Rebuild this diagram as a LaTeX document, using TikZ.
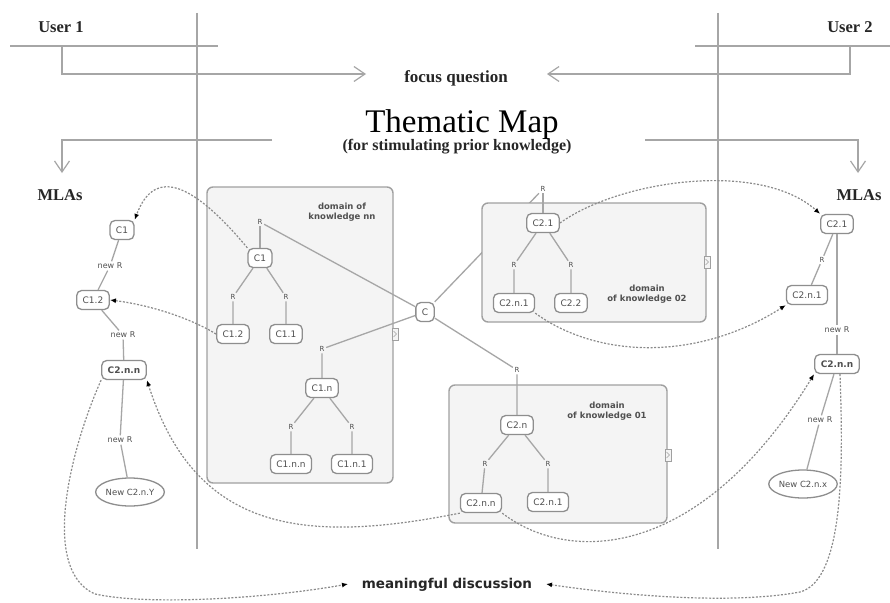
\documentclass[tikz,border=0pt]{standalone}
\usepackage{fontspec}
\setmainfont{Liberation Serif}
\newfontfamily\dvs{DejaVu Sans}
\usetikzlibrary{arrows.meta,shapes.geometric}
\pgfdeclarelayer{bg}
\pgfsetlayers{bg,main}
\definecolor{linegray}{HTML}{A6A6A6}
\definecolor{bordergray}{HTML}{8E8E8E}
\definecolor{textgray}{HTML}{505050}
\definecolor{boxfill}{HTML}{F4F4F4}
\definecolor{boxdraw}{HTML}{A0A0A0}
\definecolor{dashgray}{HTML}{8A8A8A}
\begin{document}
\begin{tikzpicture}[x=1pt,y=-1pt,
 lin/.style={draw=linegray, line width=1.3pt},
 brk/.style={draw=linegray, line width=1.3pt},
 barb/.style={-{Straight Barb[length=11pt,width=15pt,line width=1.2pt]}},
 dsh/.style={draw=dashgray, line width=1.2pt, dash pattern=on 2pt off 1.6pt, -{Latex[length=6pt,width=5pt,black]}},
 cnode/.style={draw=bordergray, line width=1.3pt, fill=white, rounded corners=5pt, font=\dvs\fontsize{9}{10}\selectfont, text=textgray, inner xsep=6pt, inner ysep=2pt, minimum height=19pt},
 bnode/.style={cnode, font=\dvs\bfseries\fontsize{9}{10}\selectfont},
 enode/.style={ellipse, draw=bordergray, line width=1.3pt, fill=white, font=\dvs\fontsize{8.5}{10}\selectfont, text=textgray, minimum width=66pt, minimum height=28pt, inner sep=0pt},
 rlab/.style={font=\dvs\fontsize{7}{8}\selectfont, text=textgray, inner sep=1.5pt},
 nrlab/.style={font=\dvs\fontsize{8}{9}\selectfont, text=textgray, inner sep=1.5pt},
 dom/.style={draw=boxdraw, line width=1.4pt, fill=boxfill, rounded corners=6pt},
 domtxt/.style={font=\dvs\bfseries\fontsize{8.5}{10.5}\selectfont, text=textgray, align=center},
 serlab/.style={font=\bfseries\fontsize{16.5}{18}\selectfont, text=black!85, inner sep=0pt, anchor=base},
 icon/.style={draw=boxdraw, line width=0.9pt, fill=boxfill},
]
\useasboundingbox (0,0) rectangle (890,602);
\begin{pgfonlayer}{bg}
\fill[white] (0,0) rectangle (890,602);
\end{pgfonlayer}

% ---------- frame lines ----------
\draw[lin] (197,13) -- (197,549);
\draw[lin] (718,13) -- (718,549);
\draw[lin] (10,46) -- (218,46);
\draw[lin] (695,46) -- (890,46);

% ---------- headings ----------
\node[serlab] (user1) at (61,33) {User 1};
\node[serlab] (user2) at (850,33) {User 2};
\node[font=\bfseries\fontsize{17}{19}\selectfont, text=black!85, inner sep=0pt, anchor=base] (fq) at (456,82) {focus question};
\node[font=\fontsize{33}{36}\selectfont, inner sep=0pt, anchor=base] (title) at (462,132) {Thematic Map};
\node[font=\bfseries\fontsize{16}{18}\selectfont, text=black!85, inner sep=0pt] (sub) at (457,147) {(for stimulating prior knowledge)};
\node[serlab] (mlaL) at (60,200) {MLAs};
\node[serlab] (mlaR) at (859,200) {MLAs};

\coordinate (u1a) at (62,46);
\coordinate (u1b) at (62,74);
\coordinate (fqL) at (366,74);
\coordinate (u2a) at (850,46);
\coordinate (u2b) at (850,74);
\coordinate (fqR) at (547,74);
\draw[brk,barb] (u1a) -- (u1b) -- (fqL);
\draw[brk,barb] (u2a) -- (u2b) -- (fqR);

\coordinate (tL1) at (272,140);
\coordinate (tL2) at (62,140);
\coordinate (tL3) at (62,173);
\coordinate (tR1) at (645,140);
\coordinate (tR2) at (858,140);
\coordinate (tR3) at (858,173);
\draw[brk,barb] (tL1) -- (tL2) -- (tL3);
\draw[brk,barb] (tR1) -- (tR2) -- (tR3);

% ---------- domain boxes ----------
\draw[dom] (207,187) rectangle (393,483);
\draw[dom] (482,203) rectangle (706,322);
\draw[dom] (449,385) rectangle (667,523);
\draw[icon] (392,328) rectangle (398,340);
\draw[draw=boxdraw, line width=0.6pt] (393.5,331) -- (396.5,334) -- (393.5,337);
\draw[icon] (704,256) rectangle (710,268);
\draw[draw=boxdraw, line width=0.6pt] (705.5,259) -- (708.5,262) -- (705.5,265);
\draw[icon] (665,449) rectangle (671,461);
\draw[draw=boxdraw, line width=0.6pt] (666.5,452) -- (669.5,455) -- (666.5,458);

\node[domtxt] (tnn) at (342,212) {domain of\\knowledge nn};
\node[domtxt] (t02) at (647,294) {domain\\of knowledge 02};
\node[domtxt] (t01) at (607,411) {domain\\of knowledge 01};

% ---------- central concept ----------
\node[cnode] (C) at (425,312) {C};

% domain nn
\node[rlab] (rTop) at (260,222) {R};
\node[cnode] (dC1) at (260,258) {C1};
\node[rlab] (rA) at (233,297) {R};
\node[rlab] (rB) at (286,297) {R};
\node[cnode] (dC12) at (233,334) {C1.2};
\node[cnode] (dC11) at (286,334) {C1.1};
\node[rlab] (rN) at (322,349) {R};
\node[cnode] (dC1n) at (322,388) {C1.n};
\node[rlab] (rNa) at (291,427) {R};
\node[rlab] (rNb) at (352,427) {R};
\node[cnode] (dC1nn) at (291,464) {C1.n.n};
\node[cnode] (dC1n1) at (352,464) {C1.n.1};

\draw[lin] (rTop) -- (dC1);
\draw[lin] (rTop) -- (C);
\draw[lin] (dC1) -- (rA) -- (dC12);
\draw[lin] (dC1) -- (rB) -- (dC11);
\draw[lin] (C) -- (rN) -- (dC1n);
\draw[lin] (dC1n) -- (rNa) -- (dC1nn);
\draw[lin] (dC1n) -- (rNb) -- (dC1n1);

% domain 02
\node[rlab] (r02) at (543,189) {R};
\node[cnode] (dC21) at (543,223) {C2.1};
\node[rlab] (r02a) at (514,265) {R};
\node[rlab] (r02b) at (571,265) {R};
\node[cnode] (dC2n1) at (514,303) {C2.n.1};
\node[cnode] (dC22) at (571,303) {C2.2};
\begin{pgfonlayer}{bg}
\draw[lin] (C) -- (r02);
\end{pgfonlayer}
\draw[lin] (r02) -- (dC21);
\draw[lin] (dC21) -- (r02a) -- (dC2n1);
\draw[lin] (dC21) -- (r02b) -- (dC22);

% domain 01
\node[rlab] (r01) at (517,370) {R};
\node[cnode] (dC2n) at (517,425) {C2.n};
\node[rlab] (r01a) at (485,464) {R};
\node[rlab] (r01b) at (548,464) {R};
\node[cnode] (dC2nn) at (481,503) {C2.n.n};
\node[cnode] (dC2n1b) at (548,502) {C2.n.1};
\draw[lin] (C) -- (r01) -- (dC2n);
\draw[lin] (dC2n) -- (r01a) -- (dC2nn);
\draw[lin] (dC2n) -- (r01b) -- (dC2n1b);

% ---------- left MLAs ----------
\node[cnode] (lC1) at (122,230) {C1};
\node[nrlab] (lnr1) at (110,266) {new R};
\node[cnode] (lC12) at (93,300) {C1.2};
\node[nrlab] (lnr2) at (123,335) {new R};
\node[bnode] (lC2nn) at (124,370) {C2.n.n};
\node[nrlab] (lnr3) at (120,440) {new R};
\node[enode] (lNew) at (130,492) {New C2.n.Y};
\draw[lin] (lC1) -- (lnr1) -- (lC12);
\draw[lin] (lC12) -- (lnr2) -- (lC2nn);
\draw[lin] (lC2nn) -- (lnr3) -- (lNew);

% ---------- right MLAs ----------
\node[cnode] (rC21) at (837,224) {C2.1};
\node[rlab] (rr1) at (822,260) {R};
\node[cnode] (rC2n1) at (807,295) {C2.n.1};
\node[nrlab] (rnr1) at (837,330) {new R};
\node[bnode] (rC2nn) at (837,364) {C2.n.n};
\node[nrlab] (rnr2) at (820,420) {new R};
\node[enode] (rNew) at (803,484) {New C2.n.x};
\draw[lin] (rC21) -- (rr1) -- (rC2n1);
\draw[lin] (rC21) -- (rnr1) -- (rC2nn);
\draw[lin] (rC2nn) -- (rnr2) -- (rNew);

% ---------- meaningful discussion ----------
\node[font=\dvs\bfseries\fontsize{13.5}{15}\selectfont, text=black!85, inner sep=0pt] (md) at (447,585) {meaningful discussion};
\coordinate (mdL) at (348,584);
\coordinate (mdR) at (546,584);

% ---------- dashed connectors ----------
\draw[dsh] (dC1.north west) .. controls (195,185) and (155,165) .. (lC1.north east);
\draw[dsh] (dC12.west) .. controls (190,318) and (150,305) .. (lC12.east);
\draw[dsh] (dC2nn.south west) .. controls (300,545) and (195,530) .. (lC2nn.south east);
\draw[dsh] (lC2nn.south west) .. controls (70,450) and (40,570) .. (95,594) .. controls (150,606) and (270,598) .. (mdL);
\draw[dsh] ([xshift=3pt]rC2nn.south) .. controls (843,460) and (845,580) .. (800,592) .. controls (730,605) and (620,595) .. (mdR);
\draw[dsh] (dC21.east) .. controls (620,180) and (760,160) .. (rC21.north west);
\draw[dsh] (dC2n1.south east) .. controls (600,360) and (700,360) .. (rC2n1.south west);
\draw[dsh] (dC2nn.south east) .. controls (570,565) and (700,560) .. (rC2nn.south west);
\end{tikzpicture}
\end{document}
